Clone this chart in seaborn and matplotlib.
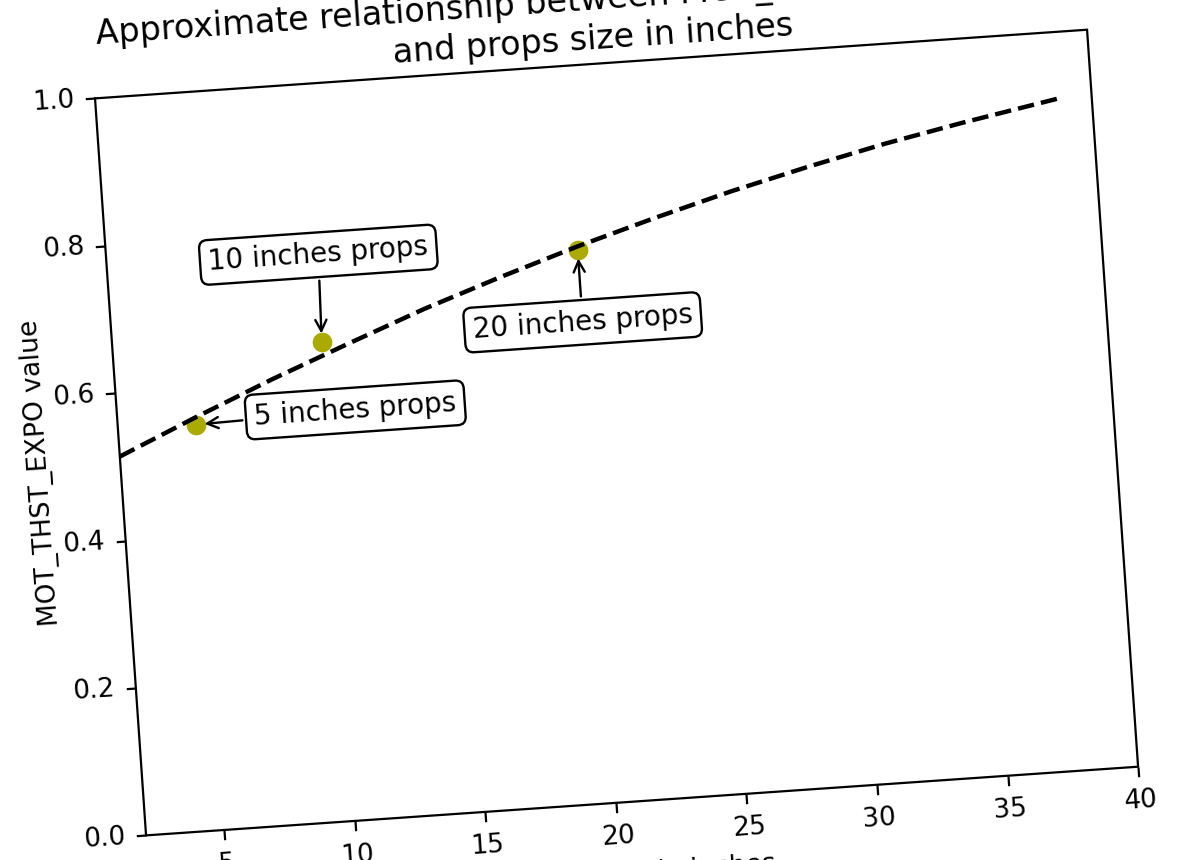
import matplotlib
matplotlib.use("Agg")
import matplotlib.pyplot as plt
import seaborn as sns
from matplotlib.transforms import Affine2D
from mpl_toolkits.axisartist import floating_axes
from mpl_toolkits.axisartist.grid_finder import FixedLocator, DictFormatter

# curve (props size in inches -> MOT_THST_EXPO)
prop_inches = [2, 5, 8, 11, 14, 17, 20, 23, 26, 29, 32, 35, 38.75]
expo_curve = [0.514, 0.560, 0.604, 0.645, 0.685, 0.721, 0.755, 0.786,
              0.815, 0.841, 0.865, 0.886, 0.910]

# the three marked props
point_inches = [5, 10, 20]
point_expo = [0.55, 0.65, 0.75]
point_labels = ["5 inches props", "10 inches props", "20 inches props"]

# ticks
x_ticks = [5, 10, 15, 20, 25, 30, 35, 40]
x_tick_labels = ["5", "10", "15", "20", "25", "30", "35", "40"]
y_ticks = [0.0, 0.2, 0.4, 0.6, 0.8, 1.0]
y_tick_labels = ["0.0", "0.2", "0.4", "0.6", "0.8", "1.0"]

title = "Approximate relationship between MOT_THST_EXPO values\nand props size in inches"
x_label = "Props size in inches"
y_label = "MOT_THST_EXPO value"

sns.set_style("white", rc={"axes.edgecolor": "black", "text.color": "black",
                           "xtick.color": "black", "ytick.color": "black",
                           "axes.labelcolor": "black"})
plt.rcParams["font.family"] = ["DejaVu Sans"]

# the whole chart is tilted by about 4 degrees
tilt = 3.96
tr = Affine2D().scale(26.17, 738.8).rotate_deg(tilt)
grid_helper = floating_axes.GridHelperCurveLinear(
    tr, extremes=(2, 40, 0, 1),
    grid_locator1=FixedLocator(x_ticks),
    tick_formatter1=DictFormatter(dict(zip(x_ticks, x_tick_labels))),
    grid_locator2=FixedLocator(y_ticks),
    tick_formatter2=DictFormatter(dict(zip(y_ticks, y_tick_labels))))

fig = plt.figure(figsize=(11.99, 8.6), dpi=100)
# floating axes pad their limits by 2%, so the box is made 2% bigger
ax = fig.add_axes([84.6 / 1199, 15.9 / 860, 1063.9 / 1199, 823.1 / 860],
                  axes_class=floating_axes.FloatingAxes, grid_helper=grid_helper)
ax.set_aspect(1)

for side in ["left", "bottom", "top", "right"]:
    ax.axis[side].line.set_linewidth(1.6)
    ax.axis[side].major_ticks.set_tick_out(True)
    ax.axis[side].major_ticks.set_ticksize(7)
    ax.axis[side].major_ticks.set_markeredgewidth(1.6)
    ax.axis[side].major_ticklabels.set_fontsize(19)
for side in ["top", "right"]:
    ax.axis[side].major_ticks.set_visible(False)
    ax.axis[side].major_ticklabels.set_visible(False)
ax.axis["left"].major_ticklabels.set_pad(8)
ax.axis["bottom"].major_ticklabels.set_pad(8.5)

ax.axis["left"].label.set_text(y_label)
ax.axis["left"].label.set_fontsize(19)
ax.axis["left"].label.set_pad(3)
ax.axis["bottom"].label.set_text(x_label)
ax.axis["bottom"].label.set_fontsize(19)
ax.axis["bottom"].label.set_pad(13)

aux = ax.get_aux_axes(tr)
aux.patch = ax.patch
ax.patch.zorder = 0.9

sns.scatterplot(x=point_inches, y=point_expo, ax=aux, color="#aaaa00",
                s=200, linewidth=0, zorder=2)
sns.lineplot(x=prop_inches, y=expo_curve, ax=aux, color="black",
             linestyle="--", linewidth=3.2, zorder=3)

box = dict(boxstyle="round,pad=0.3", fc="white", ec="black", lw=1.7)
arrow = dict(arrowstyle="->", color="black", lw=1.7, shrinkB=6)
aux.annotate(point_labels[0], xy=(point_inches[0], point_expo[0]),
             xytext=(11.1, 0.555), ha="center", va="center", rotation=tilt,
             fontsize=20, bbox=box, arrowprops=arrow, zorder=5)
aux.annotate(point_labels[1], xy=(point_inches[1], point_expo[1]),
             xytext=(10.1, 0.768), ha="center", va="center", rotation=tilt,
             fontsize=20, bbox=box, arrowprops=arrow, zorder=5)
aux.annotate(point_labels[2], xy=(point_inches[2], point_expo[2]),
             xytext=(20.0, 0.652), ha="center", va="center", rotation=tilt,
             fontsize=20, bbox=box, arrowprops=arrow, zorder=5)

fig.text(594 / 1199, 1 - 56 / 860, title, rotation=tilt, rotation_mode="anchor",
         ha="center", va="bottom", multialignment="center", fontsize=24)

plt.savefig("out.png", dpi=100)
